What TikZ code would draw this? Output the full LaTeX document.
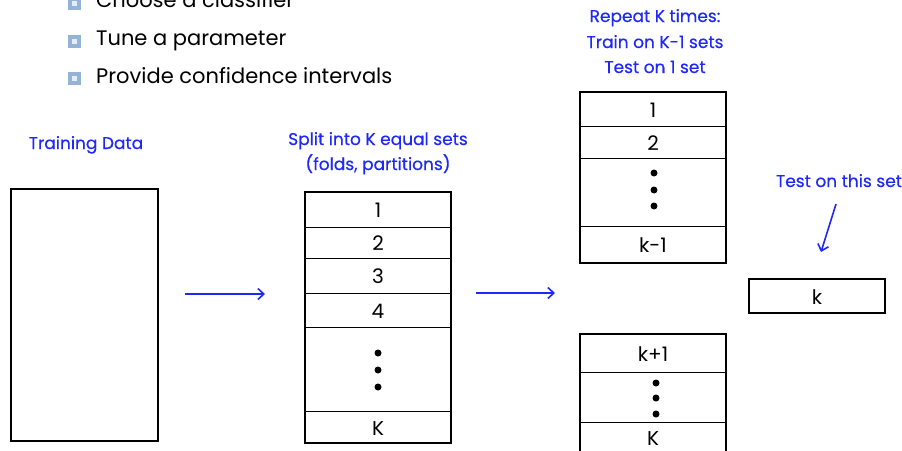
\documentclass[tikz,border=0pt]{standalone}
\usepackage{fontspec}
\setmainfont{Poppins}
\newfontfamily\lblfont[FakeBold=0.4]{Poppins}
\usetikzlibrary{arrows.meta}
\definecolor{lblue}{RGB}{30,40,250}
\definecolor{bulletc}{RGB}{148,180,215}
\definecolor{bulletin}{RGB}{228,236,246}
\begin{document}
\begin{tikzpicture}[x=1pt,y=-1pt,
  lbl/.style={text=lblue, font=\lblfont\fontsize{17}{20}\selectfont, anchor=base, inner sep=0},
  itemtxt/.style={font=\fontsize{21}{25}\selectfont, anchor=base west, inner sep=0},
  bul/.style={draw=bulletc, fill=bulletin, line width=4pt, minimum size=9, inner sep=0},
  cell/.style={draw, line width=0.8pt, inner sep=0, minimum width=146, text height=18, text depth=2, font=\fontsize{20}{24}\selectfont},
  outer/.style={draw, line width=1.6pt, inner sep=0},
  flow/.style={draw=lblue, line width=1.6pt, -{Straight Barb[length=6pt,width=11pt]}},
  dot/.style={circle, fill, inner sep=0, minimum size=7}]
\clip (0,0) rectangle (902,450);
\fill[white] (0,0) rectangle (902,450);
% bullet items
\node[bul] (b1) at (74,3) {};
\node[itemtxt] (t1) at (96,7) {Choose a classifier};
\node[bul] (b2) at (74,41) {};
\node[itemtxt] (t2) at (96,45) {Tune a parameter};
\node[bul] (b3) at (74,78) {};
\node[itemtxt] (t3) at (96,83) {Provide confidence intervals};
% training data
\node[lbl] (ltrain) at (86,149) {Training Data};
\node[outer, minimum width=147, minimum height=252] (train) at (84.5,315) {};
% split
\node[lbl] (lsplit1) at (378,145) {Split into K equal sets};
\node[lbl] (lsplit2) at (378,170) {(folds, partitions)};
\node[cell, minimum height=35] (s1) at (378,209.5) {1};
\node[cell, minimum height=31] (s2) at (378,242.5) {2};
\node[cell, minimum height=35] (s3) at (378,275.5) {3};
\node[cell, minimum height=34] (s4) at (378,310) {4};
\node[cell, minimum height=84] (sd) at (378,369) {};
\node[cell, minimum height=32] (sK) at (378,427) {K};
\node[outer, minimum width=146, minimum height=251] (split) at (378,317.5) {};
\node[dot] (sd1) at (378,353) {};
\node[dot] (sd2) at (378,370) {};
\node[dot] (sd3) at (378,387) {};
% repeat
\node[lbl] (lrep1) at (655,22) {Repeat K times:};
\node[lbl] (lrep2) at (655,48) {Train on K-1 sets};
\node[lbl] (lrep3) at (655,73) {Test on 1 set};
\node[cell, minimum height=34] (u1) at (653,109) {1};
\node[cell, minimum height=32] (u2) at (653,142) {2};
\node[cell, minimum height=68] (ud) at (653,192) {};
\node[cell, minimum height=37] (uk) at (653,244.5) {k-1};
\node[outer, minimum width=146, minimum height=171] (upper) at (653,177.5) {};
\node[dot] (ud1) at (654,173) {};
\node[dot] (ud2) at (654,190) {};
\node[dot] (ud3) at (654,206) {};
% lower
\node[cell, minimum height=38] (l1) at (653,353) {k+1};
\node[cell, minimum height=50] (ld) at (653,397) {};
\node[cell, minimum height=30] (lK) at (653,437) {K};
\node[outer, minimum width=146, minimum height=136] (lower) at (653,402) {};
\node[dot] (ld1) at (656,383) {};
\node[dot] (ld2) at (656,398) {};
\node[dot] (ld3) at (656,414) {};
% test set
\node[lbl] (ltest) at (839,187) {Test on this set};
\node[outer, minimum width=136, minimum height=34, text height=18, text depth=2, font=\fontsize{20}{24}\selectfont] (kbox) at (817,296) {k};
% arrows
\coordinate (a1s) at (185,294);
\coordinate (a1e) at (265,294);
\coordinate (a2s) at (476,293);
\coordinate (a2e) at (555,293);
\coordinate (a3s) at (836,204);
\coordinate (a3e) at (821,252);
\draw[flow] (a1s) -- (a1e);
\draw[flow] (a2s) -- (a2e);
\draw[flow] (a3s) -- (a3e);
\end{tikzpicture}
\end{document}
